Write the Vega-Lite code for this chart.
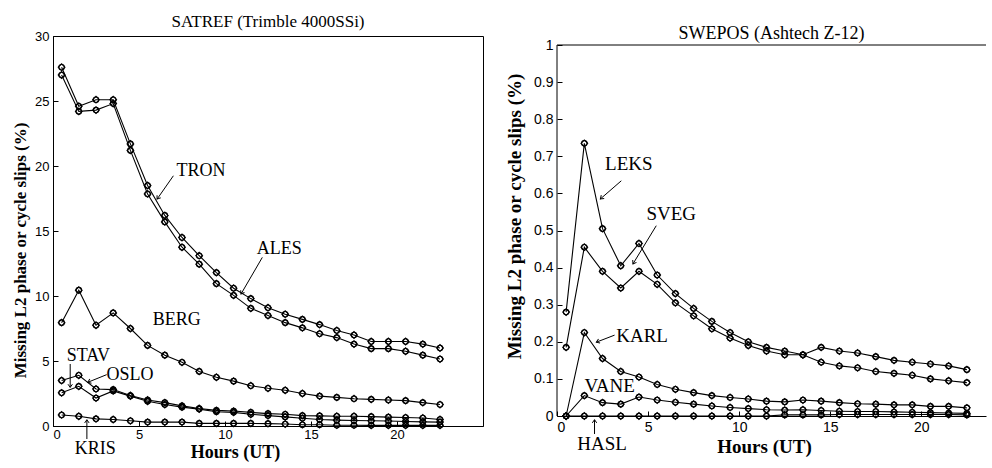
{
  "$schema": "https://vega.github.io/schema/vega-lite/v6.json",
  "background": "white",
  "padding": {"left": 11, "top": 12, "right": 0, "bottom": 0},
  "spacing": 21,
  "datasets": {
    "satref": [
      {"station":"ALES","hour":0.5,"pct":27.6},{"station":"ALES","hour":1.5,"pct":24.6},{"station":"ALES","hour":2.5,"pct":25.1},{"station":"ALES","hour":3.5,"pct":25.1},{"station":"ALES","hour":4.5,"pct":21.7},{"station":"ALES","hour":5.5,"pct":18.5},{"station":"ALES","hour":6.5,"pct":16.2},{"station":"ALES","hour":7.5,"pct":14.5},{"station":"ALES","hour":8.5,"pct":13.1},{"station":"ALES","hour":9.5,"pct":11.8},{"station":"ALES","hour":10.5,"pct":10.6},{"station":"ALES","hour":11.5,"pct":9.8},{"station":"ALES","hour":12.5,"pct":9.1},{"station":"ALES","hour":13.5,"pct":8.6},{"station":"ALES","hour":14.5,"pct":8.2},{"station":"ALES","hour":15.5,"pct":7.8},{"station":"ALES","hour":16.5,"pct":7.35},{"station":"ALES","hour":17.5,"pct":7.0},{"station":"ALES","hour":18.5,"pct":6.5},{"station":"ALES","hour":19.5,"pct":6.5},{"station":"ALES","hour":20.5,"pct":6.5},{"station":"ALES","hour":21.5,"pct":6.3},{"station":"ALES","hour":22.5,"pct":6.0},
      {"station":"TRON","hour":0.5,"pct":27.0},{"station":"TRON","hour":1.5,"pct":24.2},{"station":"TRON","hour":2.5,"pct":24.3},{"station":"TRON","hour":3.5,"pct":24.8},{"station":"TRON","hour":4.5,"pct":21.2},{"station":"TRON","hour":5.5,"pct":17.85},{"station":"TRON","hour":6.5,"pct":15.7},{"station":"TRON","hour":7.5,"pct":13.75},{"station":"TRON","hour":8.5,"pct":12.45},{"station":"TRON","hour":9.5,"pct":10.95},{"station":"TRON","hour":10.5,"pct":10.05},{"station":"TRON","hour":11.5,"pct":9.05},{"station":"TRON","hour":12.5,"pct":8.5},{"station":"TRON","hour":13.5,"pct":7.95},{"station":"TRON","hour":14.5,"pct":7.55},{"station":"TRON","hour":15.5,"pct":7.1},{"station":"TRON","hour":16.5,"pct":6.8},{"station":"TRON","hour":17.5,"pct":6.3},{"station":"TRON","hour":18.5,"pct":5.95},{"station":"TRON","hour":19.5,"pct":5.95},{"station":"TRON","hour":20.5,"pct":5.75},{"station":"TRON","hour":21.5,"pct":5.45},{"station":"TRON","hour":22.5,"pct":5.15},
      {"station":"BERG","hour":0.5,"pct":7.95},{"station":"BERG","hour":1.5,"pct":10.45},{"station":"BERG","hour":2.5,"pct":7.75},{"station":"BERG","hour":3.5,"pct":8.7},{"station":"BERG","hour":4.5,"pct":7.5},{"station":"BERG","hour":5.5,"pct":6.2},{"station":"BERG","hour":6.5,"pct":5.45},{"station":"BERG","hour":7.5,"pct":4.9},{"station":"BERG","hour":8.5,"pct":4.2},{"station":"BERG","hour":9.5,"pct":3.75},{"station":"BERG","hour":10.5,"pct":3.45},{"station":"BERG","hour":11.5,"pct":3.1},{"station":"BERG","hour":12.5,"pct":2.9},{"station":"BERG","hour":13.5,"pct":2.75},{"station":"BERG","hour":14.5,"pct":2.5},{"station":"BERG","hour":15.5,"pct":2.3},{"station":"BERG","hour":16.5,"pct":2.2},{"station":"BERG","hour":17.5,"pct":2.1},{"station":"BERG","hour":18.5,"pct":2.05},{"station":"BERG","hour":19.5,"pct":2.0},{"station":"BERG","hour":20.5,"pct":1.95},{"station":"BERG","hour":21.5,"pct":1.8},{"station":"BERG","hour":22.5,"pct":1.65},
      {"station":"STAV","hour":0.5,"pct":3.5},{"station":"STAV","hour":1.5,"pct":3.9},{"station":"STAV","hour":2.5,"pct":2.85},{"station":"STAV","hour":3.5,"pct":2.8},{"station":"STAV","hour":4.5,"pct":2.35},{"station":"STAV","hour":5.5,"pct":2.0},{"station":"STAV","hour":6.5,"pct":1.8},{"station":"STAV","hour":7.5,"pct":1.55},{"station":"STAV","hour":8.5,"pct":1.35},{"station":"STAV","hour":9.5,"pct":1.2},{"station":"STAV","hour":10.5,"pct":1.15},{"station":"STAV","hour":11.5,"pct":1.05},{"station":"STAV","hour":12.5,"pct":0.95},{"station":"STAV","hour":13.5,"pct":0.9},{"station":"STAV","hour":14.5,"pct":0.8},{"station":"STAV","hour":15.5,"pct":0.78},{"station":"STAV","hour":16.5,"pct":0.75},{"station":"STAV","hour":17.5,"pct":0.75},{"station":"STAV","hour":18.5,"pct":0.72},{"station":"STAV","hour":19.5,"pct":0.68},{"station":"STAV","hour":20.5,"pct":0.65},{"station":"STAV","hour":21.5,"pct":0.62},{"station":"STAV","hour":22.5,"pct":0.5},
      {"station":"OSLO","hour":0.5,"pct":2.55},{"station":"OSLO","hour":1.5,"pct":3.05},{"station":"OSLO","hour":2.5,"pct":2.15},{"station":"OSLO","hour":3.5,"pct":2.7},{"station":"OSLO","hour":4.5,"pct":2.3},{"station":"OSLO","hour":5.5,"pct":1.9},{"station":"OSLO","hour":6.5,"pct":1.65},{"station":"OSLO","hour":7.5,"pct":1.45},{"station":"OSLO","hour":8.5,"pct":1.3},{"station":"OSLO","hour":9.5,"pct":1.1},{"station":"OSLO","hour":10.5,"pct":1.05},{"station":"OSLO","hour":11.5,"pct":0.9},{"station":"OSLO","hour":12.5,"pct":0.8},{"station":"OSLO","hour":13.5,"pct":0.7},{"station":"OSLO","hour":14.5,"pct":0.6},{"station":"OSLO","hour":15.5,"pct":0.5},{"station":"OSLO","hour":16.5,"pct":0.45},{"station":"OSLO","hour":17.5,"pct":0.42},{"station":"OSLO","hour":18.5,"pct":0.4},{"station":"OSLO","hour":19.5,"pct":0.38},{"station":"OSLO","hour":20.5,"pct":0.35},{"station":"OSLO","hour":21.5,"pct":0.32},{"station":"OSLO","hour":22.5,"pct":0.3},
      {"station":"KRIS","hour":0.5,"pct":0.85},{"station":"KRIS","hour":1.5,"pct":0.75},{"station":"KRIS","hour":2.5,"pct":0.55},{"station":"KRIS","hour":3.5,"pct":0.5},{"station":"KRIS","hour":4.5,"pct":0.4},{"station":"KRIS","hour":5.5,"pct":0.3},{"station":"KRIS","hour":6.5,"pct":0.3},{"station":"KRIS","hour":7.5,"pct":0.3},{"station":"KRIS","hour":8.5,"pct":0.2},{"station":"KRIS","hour":9.5,"pct":0.2},{"station":"KRIS","hour":10.5,"pct":0.2},{"station":"KRIS","hour":11.5,"pct":0.2},{"station":"KRIS","hour":12.5,"pct":0.18},{"station":"KRIS","hour":13.5,"pct":0.15},{"station":"KRIS","hour":14.5,"pct":0.1},{"station":"KRIS","hour":15.5,"pct":0.1},{"station":"KRIS","hour":16.5,"pct":0.06},{"station":"KRIS","hour":17.5,"pct":0.06},{"station":"KRIS","hour":18.5,"pct":0.05},{"station":"KRIS","hour":19.5,"pct":0.05},{"station":"KRIS","hour":20.5,"pct":0.05},{"station":"KRIS","hour":21.5,"pct":0.05},{"station":"KRIS","hour":22.5,"pct":0.05}
    ],
    "swepos": [
      {"station":"LEKS","hour":0.5,"pct":0.28},{"station":"LEKS","hour":1.5,"pct":0.735},{"station":"LEKS","hour":2.5,"pct":0.505},{"station":"LEKS","hour":3.5,"pct":0.405},{"station":"LEKS","hour":4.5,"pct":0.465},{"station":"LEKS","hour":5.5,"pct":0.38},{"station":"LEKS","hour":6.5,"pct":0.33},{"station":"LEKS","hour":7.5,"pct":0.29},{"station":"LEKS","hour":8.5,"pct":0.255},{"station":"LEKS","hour":9.5,"pct":0.225},{"station":"LEKS","hour":10.5,"pct":0.2},{"station":"LEKS","hour":11.5,"pct":0.185},{"station":"LEKS","hour":12.5,"pct":0.175},{"station":"LEKS","hour":13.5,"pct":0.165},{"station":"LEKS","hour":14.5,"pct":0.185},{"station":"LEKS","hour":15.5,"pct":0.175},{"station":"LEKS","hour":16.5,"pct":0.17},{"station":"LEKS","hour":17.5,"pct":0.16},{"station":"LEKS","hour":18.5,"pct":0.15},{"station":"LEKS","hour":19.5,"pct":0.145},{"station":"LEKS","hour":20.5,"pct":0.14},{"station":"LEKS","hour":21.5,"pct":0.135},{"station":"LEKS","hour":22.5,"pct":0.125},
      {"station":"SVEG","hour":0.5,"pct":0.185},{"station":"SVEG","hour":1.5,"pct":0.455},{"station":"SVEG","hour":2.5,"pct":0.39},{"station":"SVEG","hour":3.5,"pct":0.345},{"station":"SVEG","hour":4.5,"pct":0.39},{"station":"SVEG","hour":5.5,"pct":0.355},{"station":"SVEG","hour":6.5,"pct":0.305},{"station":"SVEG","hour":7.5,"pct":0.27},{"station":"SVEG","hour":8.5,"pct":0.235},{"station":"SVEG","hour":9.5,"pct":0.21},{"station":"SVEG","hour":10.5,"pct":0.19},{"station":"SVEG","hour":11.5,"pct":0.175},{"station":"SVEG","hour":12.5,"pct":0.165},{"station":"SVEG","hour":13.5,"pct":0.165},{"station":"SVEG","hour":14.5,"pct":0.145},{"station":"SVEG","hour":15.5,"pct":0.135},{"station":"SVEG","hour":16.5,"pct":0.13},{"station":"SVEG","hour":17.5,"pct":0.12},{"station":"SVEG","hour":18.5,"pct":0.115},{"station":"SVEG","hour":19.5,"pct":0.11},{"station":"SVEG","hour":20.5,"pct":0.1},{"station":"SVEG","hour":21.5,"pct":0.095},{"station":"SVEG","hour":22.5,"pct":0.09},
      {"station":"KARL","hour":0.5,"pct":0},{"station":"KARL","hour":1.5,"pct":0.225},{"station":"KARL","hour":2.5,"pct":0.155},{"station":"KARL","hour":3.5,"pct":0.12},{"station":"KARL","hour":4.5,"pct":0.105},{"station":"KARL","hour":5.5,"pct":0.085},{"station":"KARL","hour":6.5,"pct":0.072},{"station":"KARL","hour":7.5,"pct":0.063},{"station":"KARL","hour":8.5,"pct":0.055},{"station":"KARL","hour":9.5,"pct":0.05},{"station":"KARL","hour":10.5,"pct":0.046},{"station":"KARL","hour":11.5,"pct":0.04},{"station":"KARL","hour":12.5,"pct":0.038},{"station":"KARL","hour":13.5,"pct":0.043},{"station":"KARL","hour":14.5,"pct":0.04},{"station":"KARL","hour":15.5,"pct":0.036},{"station":"KARL","hour":16.5,"pct":0.033},{"station":"KARL","hour":17.5,"pct":0.032},{"station":"KARL","hour":18.5,"pct":0.03},{"station":"KARL","hour":19.5,"pct":0.03},{"station":"KARL","hour":20.5,"pct":0.026},{"station":"KARL","hour":21.5,"pct":0.026},{"station":"KARL","hour":22.5,"pct":0.022},
      {"station":"VANE","hour":0.5,"pct":0},{"station":"VANE","hour":1.5,"pct":0.055},{"station":"VANE","hour":2.5,"pct":0.036},{"station":"VANE","hour":3.5,"pct":0.032},{"station":"VANE","hour":4.5,"pct":0.051},{"station":"VANE","hour":5.5,"pct":0.043},{"station":"VANE","hour":6.5,"pct":0.037},{"station":"VANE","hour":7.5,"pct":0.032},{"station":"VANE","hour":8.5,"pct":0.027},{"station":"VANE","hour":9.5,"pct":0.023},{"station":"VANE","hour":10.5,"pct":0.02},{"station":"VANE","hour":11.5,"pct":0.017},{"station":"VANE","hour":12.5,"pct":0.016},{"station":"VANE","hour":13.5,"pct":0.017},{"station":"VANE","hour":14.5,"pct":0.015},{"station":"VANE","hour":15.5,"pct":0.013},{"station":"VANE","hour":16.5,"pct":0.012},{"station":"VANE","hour":17.5,"pct":0.012},{"station":"VANE","hour":18.5,"pct":0.011},{"station":"VANE","hour":19.5,"pct":0.01},{"station":"VANE","hour":20.5,"pct":0.009},{"station":"VANE","hour":21.5,"pct":0.008},{"station":"VANE","hour":22.5,"pct":0.007},
      {"station":"HASL","hour":0.5,"pct":0},{"station":"HASL","hour":1.5,"pct":0},{"station":"HASL","hour":2.5,"pct":0},{"station":"HASL","hour":3.5,"pct":0},{"station":"HASL","hour":4.5,"pct":0},{"station":"HASL","hour":5.5,"pct":0},{"station":"HASL","hour":6.5,"pct":0},{"station":"HASL","hour":7.5,"pct":0},{"station":"HASL","hour":8.5,"pct":0},{"station":"HASL","hour":9.5,"pct":0},{"station":"HASL","hour":10.5,"pct":0},{"station":"HASL","hour":11.5,"pct":0},{"station":"HASL","hour":12.5,"pct":0.003},{"station":"HASL","hour":13.5,"pct":0.003},{"station":"HASL","hour":14.5,"pct":0.003},{"station":"HASL","hour":15.5,"pct":0.004},{"station":"HASL","hour":16.5,"pct":0.004},{"station":"HASL","hour":17.5,"pct":0.004},{"station":"HASL","hour":18.5,"pct":0.004},{"station":"HASL","hour":19.5,"pct":0.004},{"station":"HASL","hour":20.5,"pct":0.004},{"station":"HASL","hour":21.5,"pct":0.004},{"station":"HASL","hour":22.5,"pct":0.003}
    ],
    "sweposFrame": [
      {"edge":"left","hour":0,"pct":0,"hour2":0,"pct2":1},
      {"edge":"top","hour":0,"pct":1,"hour2":23.55,"pct2":1}
    ],
    "satrefLabels": [
      {"label":"TRON","hour":8.6,"pct":19.6},
      {"label":"ALES","hour":13.15,"pct":13.6},
      {"label":"BERG","hour":7.2,"pct":8.15},
      {"label":"STAV","hour":2.06,"pct":5.4},
      {"label":"OSLO","hour":4.47,"pct":3.95},
      {"label":"KRIS","hour":2.45,"pct":-1.77}
    ],
    "satrefArrows": [
      {"label":"TRON","hour":7.0,"pct":19.25,"hour2":6.05,"pct2":17.45},
      {"label":"ALES","hour":12.17,"pct":12.97,"hour2":10.93,"pct2":10.15},
      {"label":"STAV","hour":1.0,"pct":4.77,"hour2":1.0,"pct2":2.97},
      {"label":"OSLO","hour":3.12,"pct":3.95,"hour2":2.02,"pct2":3.36},
      {"label":"KRIS","hour":1.97,"pct":-1.0,"hour2":1.97,"pct2":0.48}
    ],
    "sweposLabels": [
      {"label":"LEKS","hour":3.94,"pct":0.679},
      {"label":"SVEG","hour":6.27,"pct":0.544},
      {"label":"KARL","hour":4.67,"pct":0.2165},
      {"label":"VANE","hour":2.89,"pct":0.0817},
      {"label":"HASL","hour":2.48,"pct":-0.0755}
    ],
    "sweposArrows": [
      {"label":"LEKS","hour":3.53,"pct":0.634,"hour2":2.38,"pct2":0.585},
      {"label":"SVEG","hour":5.45,"pct":0.513,"hour2":4.17,"pct2":0.41},
      {"label":"KARL","hour":3.16,"pct":0.218,"hour2":2.16,"pct2":0.199},
      {"label":"HASL","hour":2.06,"pct":-0.0485,"hour2":2.06,"pct2":-0.01}
    ]
  },
  "hconcat": [
    {
      "width": 430,
      "height": 390,
      "title": {"text": "SATREF (Trimble 4000SSi)", "font": "Liberation Serif", "fontSize": 17, "fontWeight": "normal", "color": "black", "frame": "group", "offset": -1},
      "encoding": {
        "x": {"field": "hour", "type": "quantitative", "scale": {"domain": [0, 25], "nice": false, "zero": false},
              "axis": {"title": "Hours (UT)", "values": [0, 5, 10, 15, 20], "titleX": 182, "titleFontSize": 18, "labelFontSize": 13, "tickSize": -5, "labelPadding": 7, "titlePadding": 2}},
        "y": {"field": "pct", "type": "quantitative", "scale": {"domain": [0, 30], "nice": false},
              "axis": {"title": "Missing L2 phase or cycle slips (%)", "values": [0, 5, 10, 15, 20, 25, 30], "titleY": 214, "titleFontSize": 17, "labelFontSize": 13, "tickSize": -5, "labelPadding": 9, "titlePadding": 5}}
      },
      "layer": [
        {"data": {"name": "satref"}, "mark": {"type": "line", "color": "black", "strokeWidth": 1.1}, "encoding": {"detail": {"field": "station"}}},
        {"data": {"name": "satref"}, "mark": {"type": "point", "shape": "circle", "filled": false, "color": "black", "size": 30, "strokeWidth": 1.1, "opacity": 1}},
        {"data": {"name": "satref"}, "mark": {"type": "point", "shape": "diamond", "filled": false, "color": "black", "size": 45, "strokeWidth": 1.1, "opacity": 1}},
        {"data": {"name": "satrefArrows"}, "mark": {"type": "rule", "color": "black", "strokeWidth": 1}, "encoding": {"x2": {"field": "hour2"}, "y2": {"field": "pct2"}}},
        {"data": {"name": "satrefArrows"},
         "transform": [{"calculate": "atan2(-(datum.pct2 - datum.pct) * 13, (datum.hour2 - datum.hour) * 17.2) * 180 / PI", "as": "angle"}],
         "mark": {"type": "point", "shape": "M-1,-0.7L0,0L-1,0.7", "filled": false, "color": "black", "size": 40, "strokeWidth": 1, "opacity": 1},
         "encoding": {"x": {"field": "hour2", "type": "quantitative"}, "y": {"field": "pct2", "type": "quantitative"}, "angle": {"field": "angle", "type": "quantitative", "scale": null}}},
        {"data": {"name": "satrefLabels"}, "mark": {"type": "text", "font": "Liberation Serif", "fontSize": 18, "color": "black", "align": "center", "baseline": "middle"}, "encoding": {"text": {"field": "label"}}}
      ]
    },
    {
      "width": 429,
      "height": 380,
      "view": {"stroke": null},
      "title": {"text": "SWEPOS (Ashtech Z-12)", "font": "Liberation Serif", "fontSize": 18, "fontWeight": "normal", "color": "black", "frame": "group", "offset": -7},
      "encoding": {
        "x": {"field": "hour", "type": "quantitative", "scale": {"domain": [0, 23.55], "nice": false, "zero": false},
              "axis": {"title": "Hours (UT)", "values": [0, 5, 10, 15, 20], "titleX": 207, "titleFontSize": 19, "labelFontSize": 14, "tickSize": -5, "labelPadding": 9, "titlePadding": 3}},
        "y": {"field": "pct", "type": "quantitative", "scale": {"domain": [0, 1.0243], "nice": false},
              "axis": {"title": "Missing L2 phase or cycle slips (%)", "values": [0, 0.1, 0.2, 0.3, 0.4, 0.5, 0.6, 0.7, 0.8, 0.9, 1], "labelExpr": "'' + datum.value", "domain": false, "titleY": 180, "titleFontSize": 19, "labelFontSize": 14, "tickSize": -5, "labelPadding": 9, "titlePadding": 9}}
      },
      "layer": [
        {"data": {"name": "sweposFrame"}, "mark": {"type": "rule", "color": "black", "strokeWidth": 1}, "encoding": {"x2": {"field": "hour2"}, "y2": {"field": "pct2"}}},
        {"data": {"name": "swepos"}, "mark": {"type": "line", "color": "black", "strokeWidth": 1.1}, "encoding": {"detail": {"field": "station"}}},
        {"data": {"name": "swepos"}, "mark": {"type": "point", "shape": "circle", "filled": false, "color": "black", "size": 30, "strokeWidth": 1.1, "opacity": 1}},
        {"data": {"name": "swepos"}, "mark": {"type": "point", "shape": "diamond", "filled": false, "color": "black", "size": 45, "strokeWidth": 1.1, "opacity": 1}},
        {"data": {"name": "sweposArrows"}, "mark": {"type": "rule", "color": "black", "strokeWidth": 1}, "encoding": {"x2": {"field": "hour2"}, "y2": {"field": "pct2"}}},
        {"data": {"name": "sweposArrows"},
         "transform": [{"calculate": "atan2(-(datum.pct2 - datum.pct) * 371, (datum.hour2 - datum.hour) * 18.2) * 180 / PI", "as": "angle"}],
         "mark": {"type": "point", "shape": "M-1,-0.7L0,0L-1,0.7", "filled": false, "color": "black", "size": 40, "strokeWidth": 1, "opacity": 1},
         "encoding": {"x": {"field": "hour2", "type": "quantitative"}, "y": {"field": "pct2", "type": "quantitative"}, "angle": {"field": "angle", "type": "quantitative", "scale": null}}},
        {"data": {"name": "sweposLabels"}, "mark": {"type": "text", "font": "Liberation Serif", "fontSize": 19, "color": "black", "align": "center", "baseline": "middle"}, "encoding": {"text": {"field": "label"}}}
      ]
    }
  ],
  "config": {
    "view": {"stroke": "black", "strokeWidth": 1},
    "axis": {"grid": false, "domainColor": "black", "tickColor": "black", "labelColor": "black", "titleColor": "black", "labelFont": "Liberation Sans", "titleFont": "Liberation Serif", "titleFontWeight": "bold", "domainWidth": 1, "tickWidth": 1}
  }
}
